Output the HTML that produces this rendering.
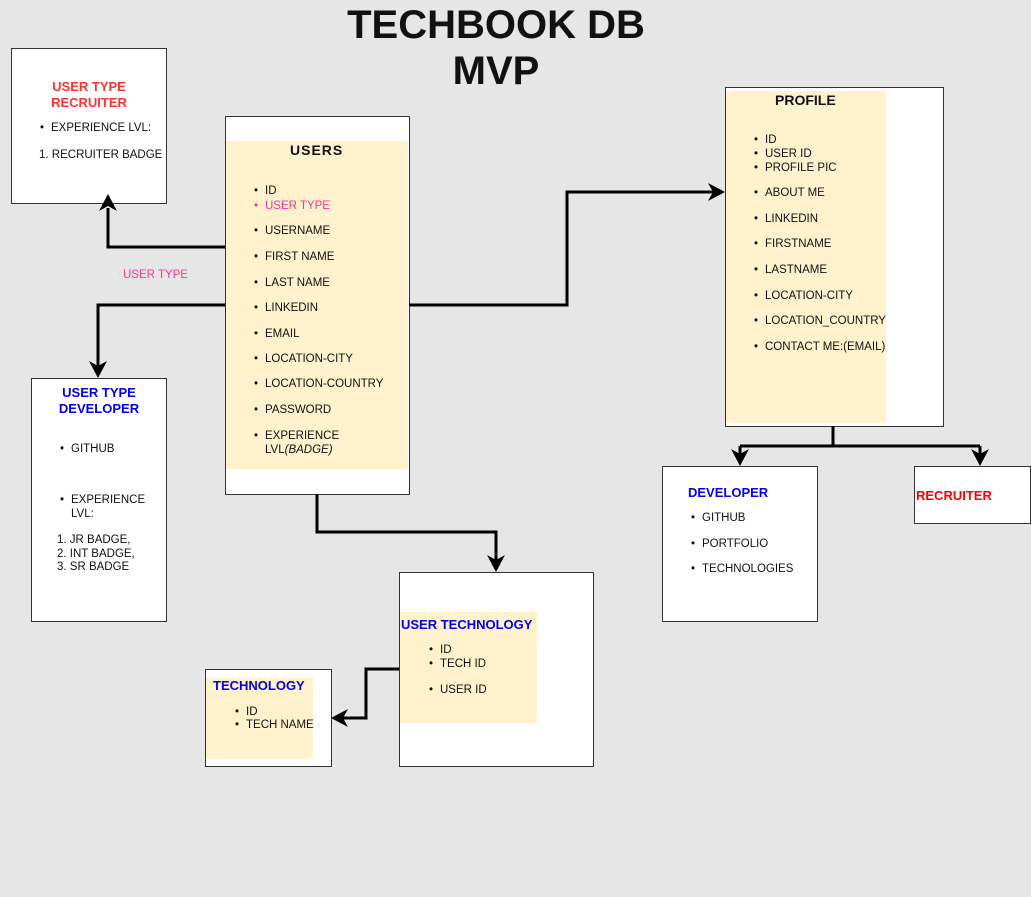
<!DOCTYPE html>
<html><head><meta charset="utf-8"><style>
body{margin:0;width:1031px;height:897px;background:#e6e6e6;position:relative;overflow:hidden;font-family:"Liberation Sans",Arial,sans-serif;font-size:11.5px;color:#111}
.b{position:absolute;background:#fff;border:1px solid #333;box-sizing:border-box}
.c{position:absolute;background:#fff2cc}
.t{position:absolute;white-space:nowrap}
.li{position:absolute;white-space:nowrap}
.li:before{content:"•";position:absolute;left:-11px}
.h{font-weight:bold;font-size:14px}
svg{z-index:5}
</style></head><body>
<svg width="1031" height="897" style="position:absolute;left:0;top:0">
<g fill="none" stroke="#000" stroke-width="3">
<polyline points="225,247 108,247 108,208"/>
<polyline points="225,305 98,305 98,372"/>
<polyline points="409,305 567,305 567,192 719,192"/>
<polyline points="317,494 317,532 496,532 496,566"/>
<polyline points="399,669 366,669 366,718 337,718"/>
<polyline points="833,426 833,446"/>
<polyline points="740,446 980,446"/>
<polyline points="740,446 740,460"/>
<polyline points="980,446 980,460"/>
</g>
<g fill="#000">
<polygon points="108,194 99,211 108,206 117,211"/>
<polygon points="98,378 89,361 98,366 107,361"/>
<polygon points="725,192 708,183 713,192 708,201"/>
<polygon points="496,572 487,555 496,560 505,555"/>
<polygon points="331,718 348,709 343,718 348,727"/>
<polygon points="740,466 731,449 740,454 749,449"/>
<polygon points="980,466 971,449 980,454 989,449"/>
</g>
</svg>
<div class="t" style="left:0;width:992px;top:2px;text-align:center;font-weight:bold;font-size:40px;line-height:46px">TECHBOOK DB<br>MVP</div>

<div class="b" style="left:11px;top:48px;width:156px;height:156px"></div>
<div class="t h" style="left:11px;width:156px;top:79px;text-align:center;color:#ff3333;font-size:13px;line-height:16px">USER TYPE<br>RECRUITER</div>
<div class="li" style="left:51px;top:122px">EXPERIENCE LVL:</div>
<div class="t" style="left:39px;top:149px">1. RECRUITER BADGE</div>

<div class="b" style="left:225px;top:116px;width:185px;height:379px"></div>
<div class="c" style="left:226px;top:141px;width:182px;height:328px"></div>
<div class="t h" style="left:290px;top:142px;letter-spacing:1px">USERS</div>
<div class="li" style="left:265px;top:185px">ID</div>
<div class="li" style="left:265px;top:200px;color:#ff3399">USER TYPE</div>
<div class="li" style="left:265px;top:225px">USERNAME</div>
<div class="li" style="left:265px;top:251px">FIRST NAME</div>
<div class="li" style="left:265px;top:277px">LAST NAME</div>
<div class="li" style="left:265px;top:302px">LINKEDIN</div>
<div class="li" style="left:265px;top:328px">EMAIL</div>
<div class="li" style="left:265px;top:353px">LOCATION-CITY</div>
<div class="li" style="left:265px;top:378px">LOCATION-COUNTRY</div>
<div class="li" style="left:265px;top:404px">PASSWORD</div>
<div class="li" style="left:265px;top:430px">EXPERIENCE</div>
<div class="t" style="left:265px;top:444px">LVL<i>(BADGE)</i></div>

<div class="t" style="left:123px;top:269px;color:#ff3399">USER TYPE</div>

<div class="b" style="left:31px;top:378px;width:136px;height:244px"></div>
<div class="t h" style="left:31px;width:136px;top:385px;text-align:center;color:#0000ee;font-size:13px;line-height:16px">USER TYPE<br>DEVELOPER</div>
<div class="li" style="left:71px;top:443px">GITHUB</div>
<div class="li" style="left:71px;top:494px">EXPERIENCE</div>
<div class="t" style="left:71px;top:508px">LVL:</div>
<div class="t" style="left:57px;top:534px;line-height:13.5px">1. JR BADGE,<br>2. INT BADGE,<br>3. SR BADGE</div>

<div class="b" style="left:725px;top:87px;width:219px;height:340px"></div>
<div class="c" style="left:726px;top:91px;width:160px;height:332px"></div>
<div class="t h" style="left:775px;top:92px">PROFILE</div>
<div class="li" style="left:765px;top:134px">ID</div>
<div class="li" style="left:765px;top:148px">USER ID</div>
<div class="li" style="left:765px;top:162px">PROFILE PIC</div>
<div class="li" style="left:765px;top:187px">ABOUT ME</div>
<div class="li" style="left:765px;top:213px">LINKEDIN</div>
<div class="li" style="left:765px;top:238px">FIRSTNAME</div>
<div class="li" style="left:765px;top:264px">LASTNAME</div>
<div class="li" style="left:765px;top:290px">LOCATION-CITY</div>
<div class="li" style="left:765px;top:315px">LOCATION_COUNTRY</div>
<div class="li" style="left:765px;top:341px">CONTACT ME:(EMAIL)</div>

<div class="b" style="left:662px;top:466px;width:156px;height:156px"></div>
<div class="t h" style="left:688px;top:485px;color:#0000ee;font-size:13px">DEVELOPER</div>
<div class="li" style="left:702px;top:512px">GITHUB</div>
<div class="li" style="left:702px;top:538px">PORTFOLIO</div>
<div class="li" style="left:702px;top:563px">TECHNOLOGIES</div>

<div class="b" style="left:914px;top:466px;width:117px;height:58px"></div>
<div class="t h" style="left:916px;top:488px;color:#ff0000;font-size:13px">RECRUITER</div>

<div class="b" style="left:399px;top:572px;width:195px;height:195px"></div>
<div class="c" style="left:400px;top:612px;width:137px;height:111px"></div>
<div class="t h" style="left:401px;top:617px;color:#0000ee;font-size:13px">USER TECHNOLOGY</div>
<div class="li" style="left:440px;top:644px">ID</div>
<div class="li" style="left:440px;top:658px">TECH ID</div>
<div class="li" style="left:440px;top:684px">USER ID</div>

<div class="b" style="left:205px;top:669px;width:127px;height:98px"></div>
<div class="c" style="left:206px;top:678px;width:107px;height:81px"></div>
<div class="t h" style="left:213px;top:678px;color:#0000ee;font-size:13px">TECHNOLOGY</div>
<div class="li" style="left:246px;top:706px">ID</div>
<div class="li" style="left:246px;top:719px">TECH NAME</div>
</body></html>
